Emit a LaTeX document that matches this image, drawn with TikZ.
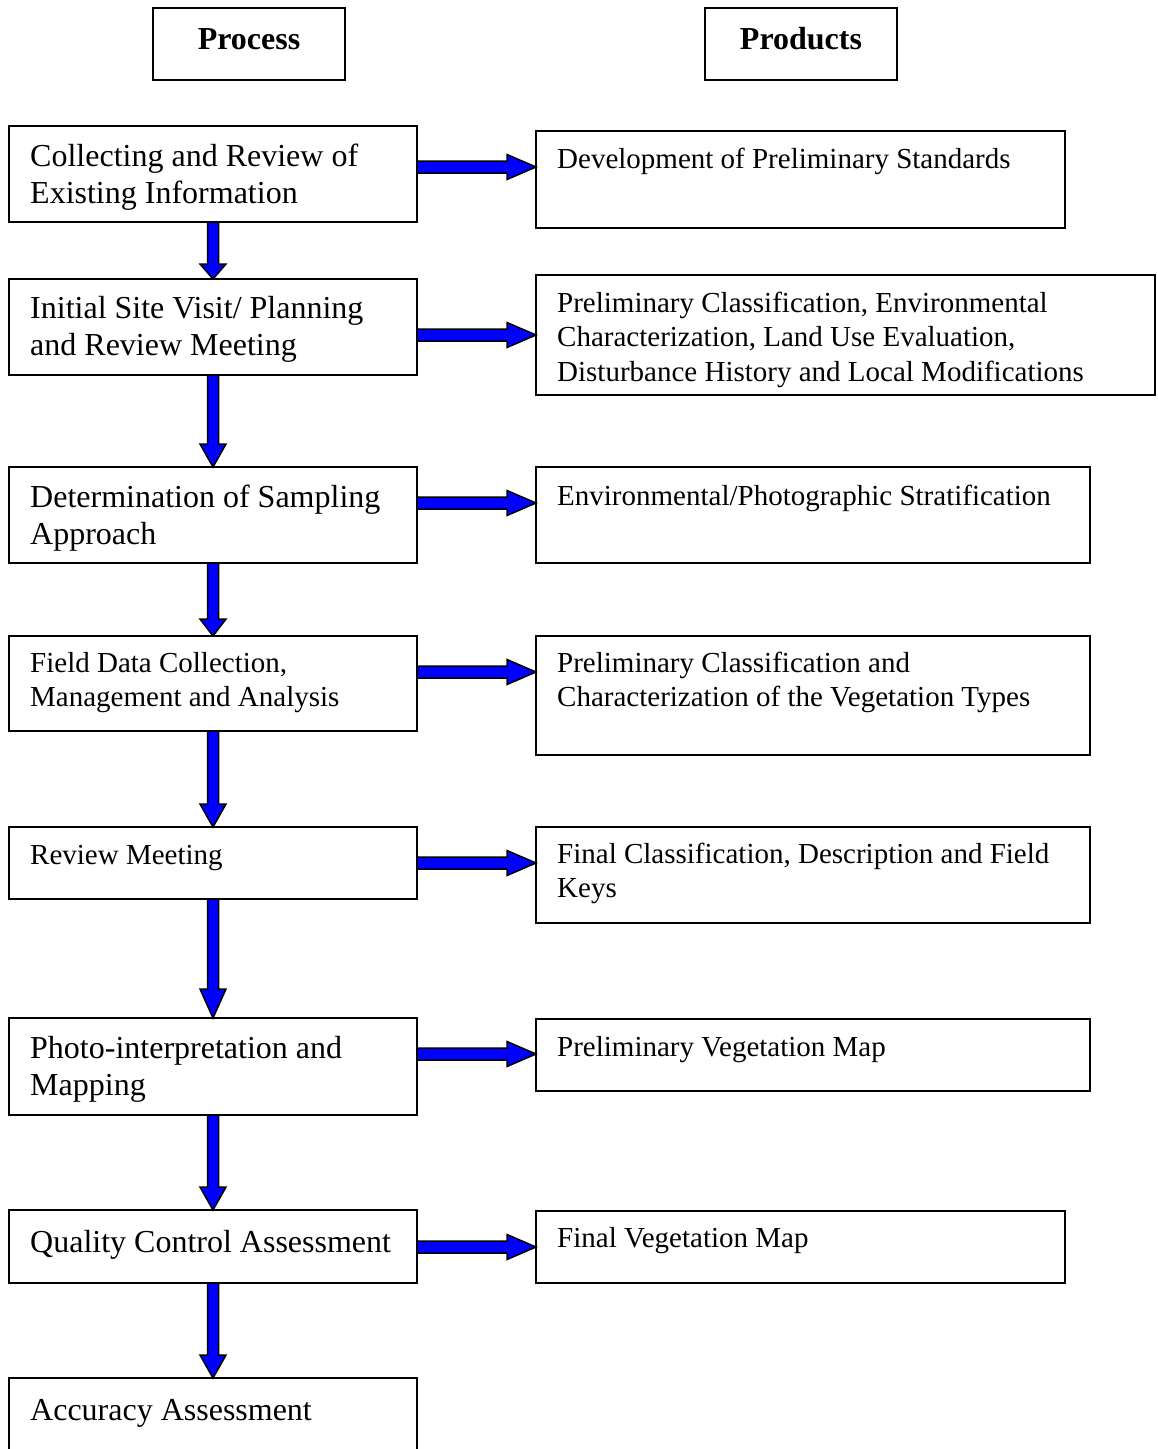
\documentclass[tikz,border=0pt]{standalone}
\usepackage{fontspec}
\setmainfont{Liberation Serif}
\usetikzlibrary{calc}
\tikzset{
  box/.style={draw=black, line width=2pt, inner sep=0pt, outer sep=0pt, anchor=north west},
  bigtxt/.style={font=\fontsize{32}{37}\selectfont, align=left, inner sep=0pt, anchor=north west},
  smalltxt/.style={font=\fontsize{29}{34.5}\selectfont, align=left, inner sep=0pt, anchor=north west},
  headtxt/.style={font=\fontsize{32}{37}\selectfont\bfseries, inner sep=0pt, anchor=base},
  blockarrow/.style={draw=black, fill=blue, line width=1.5pt, line join=miter},
}
% horizontal block arrow from node #1 to node #2 at height #3
\newcommand\hblock[3]{%
  \path[blockarrow] let \p1=(#1.east |- 0,#3), \p2=(#2.west |- 0,#3) in
    (\x1,\y1+6pt) -- (\x2-29pt,\y1+6pt) -- (\x2-29pt,\y1+12.5pt) -- (\x2,\y1)
    -- (\x2-29pt,\y1-12.5pt) -- (\x2-29pt,\y1-6pt) -- (\x1,\y1-6pt) -- cycle;}
% vertical block arrow from node #1 down to node #2, head length #3
\newcommand\vblock[3]{%
  \path[blockarrow] let \p1=(#1.south), \p2=(#2.north) in
    (\x1-5.5pt,\y1) -- (\x1-5.5pt,\y2+#3pt) -- (\x1-13pt,\y2+#3pt) -- (\x1,\y2)
    -- (\x1+13pt,\y2+#3pt) -- (\x1+5.5pt,\y2+#3pt) -- (\x1+5.5pt,\y1) -- cycle;}
\begin{document}
\begin{tikzpicture}[x=1pt,y=-1pt]
\useasboundingbox (0,0) rectangle (1158,1449);
\clip (0,0) rectangle (1158,1449);

% headers
\node[box, minimum width=192pt, minimum height=72pt] (hpbox) at (153,8) {};
\node[headtxt] (hp) at (249,49) {Process};
\node[box, minimum width=192pt, minimum height=72pt] (hrbox) at (705,8) {};
\node[headtxt] (hr) at (801,49) {Products};

% process boxes
\node[box, minimum width=408pt, minimum height=96pt] (b1) at (9,126) {};
\node[box, minimum width=408pt, minimum height=96pt] (b2) at (9,279) {};
\node[box, minimum width=408pt, minimum height=96pt] (b3) at (9,467) {};
\node[box, minimum width=408pt, minimum height=95pt] (b4) at (9,636) {};
\node[box, minimum width=408pt, minimum height=72pt] (b5) at (9,827) {};
\node[box, minimum width=408pt, minimum height=97pt] (b6) at (9,1018) {};
\node[box, minimum width=408pt, minimum height=73pt] (b7) at (9,1210) {};
\node[box, minimum width=408pt, minimum height=90pt] (b8) at (9,1378) {};

\node[bigtxt] (t1) at (30,140.1) {\strut Collecting and Review of\\Existing Information};
\node[bigtxt] (t2) at (30,292.1) {\strut Initial Site Visit/ Planning\\and Review Meeting};
\node[bigtxt] (t3) at (30,481.1) {\strut Determination of Sampling\\Approach};
\node[smalltxt] (t4) at (30,647.85) {\strut Field Data Collection,\\Management and Analysis};
\node[smalltxt] (t5) at (30,839.85) {\strut Review Meeting};
\node[bigtxt] (t6) at (30,1032.1) {\strut Photo-interpretation and\\Mapping};
\node[bigtxt] (t7) at (30,1226.1) {\strut Quality Control Assessment};
\node[bigtxt] (t8) at (30,1394.1) {\strut Accuracy Assessment};

% product boxes
\node[box, minimum width=529pt, minimum height=97pt] (r1) at (536,131) {};
\node[box, minimum width=619pt, minimum height=120pt] (r2) at (536,275) {};
\node[box, minimum width=554pt, minimum height=96pt] (r3) at (536,467) {};
\node[box, minimum width=554pt, minimum height=119pt] (r4) at (536,636) {};
\node[box, minimum width=554pt, minimum height=96pt] (r5) at (536,827) {};
\node[box, minimum width=554pt, minimum height=72pt] (r6) at (536,1019) {};
\node[box, minimum width=529pt, minimum height=72pt] (r7) at (536,1211) {};

\node[smalltxt] (s1) at (557,143.85) {\strut Development of Preliminary Standards};
\node[smalltxt] (s2) at (557,287.85) {\strut Preliminary Classification, Environmental\\Characterization, Land Use Evaluation,\\Disturbance History and Local Modifications};
\node[smalltxt] (s3) at (557,480.85) {\strut Environmental/Photographic Stratification};
\node[smalltxt] (s4) at (557,647.85) {\strut Preliminary Classification and\\Characterization of the Vegetation Types};
\node[smalltxt] (s5) at (557,838.85) {\strut Final Classification, Description and Field\\Keys};
\node[smalltxt] (s6) at (557,1031.85) {\strut Preliminary Vegetation Map};
\node[smalltxt] (s7) at (557,1222.85) {\strut Final Vegetation Map};

% horizontal arrows
\hblock{b1}{r1}{167}
\hblock{b2}{r2}{335}
\hblock{b3}{r3}{503}
\hblock{b4}{r4}{672}
\hblock{b5}{r5}{863}
\hblock{b6}{r6}{1054}
\hblock{b7}{r7}{1247}

% vertical arrows
\vblock{b1}{b2}{15}
\vblock{b2}{b3}{23}
\vblock{b3}{b4}{17}
\vblock{b4}{b5}{23}
\vblock{b5}{b6}{29}
\vblock{b6}{b7}{23}
\vblock{b7}{b8}{23}
\end{tikzpicture}
\end{document}
